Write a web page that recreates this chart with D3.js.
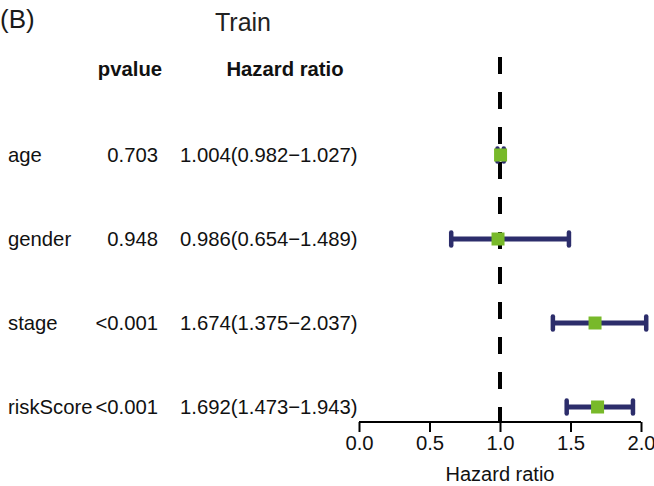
<!DOCTYPE html>
<html>
<head>
<meta charset="utf-8">
<script src="https://cdn.jsdelivr.net/npm/d3@7"></script>
<style>
  html, body { margin: 0; padding: 0; background: #fff; }
  svg { display: block; font-family: "Liberation Sans", Arial, Helvetica, sans-serif; }
</style>
</head>
<body>
<svg id="chart" width="654" height="486"></svg>
<script>
const variables = ["age", "gender", "stage", "riskScore"];
const pvalues = ["0.703", "0.948", "<0.001", "<0.001"];
const hr = [1.004, 0.986, 1.674, 1.692];
const hrLow = [0.982, 0.654, 1.375, 1.473];
const hrHigh = [1.027, 1.489, 2.037, 1.943];
const xTicks = [0.0, 0.5, 1.0, 1.5, 2.0];

const svg = d3.select("#chart");
const fmt = d3.format(".3f");

const x = d3.scaleLinear().domain([0, 2]).range([359, 641]);
const y = d3.scaleBand().domain(variables).range([113, 449]).padding(0);
const yc = v => y(v) + y.bandwidth() / 2;

// panel label and title
svg.append("text").attr("x", 0).attr("y", 28).attr("font-size", 26).attr("fill", "#1a1a1a").text("(B)");
svg.append("text").attr("x", 243).attr("y", 31).attr("text-anchor", "middle")
  .attr("font-size", 25).attr("fill", "#222").text("Train");

// headers
svg.append("text").attr("x", 130).attr("y", 76).attr("text-anchor", "middle")
  .attr("font-size", 20.3).attr("font-weight", "bold").attr("fill", "#111").text("pvalue");
svg.append("text").attr("x", 285).attr("y", 76).attr("text-anchor", "middle")
  .attr("font-size", 20.3).attr("font-weight", "bold").attr("fill", "#111").text("Hazard ratio");

// row texts
const rows = svg.append("g");
variables.forEach((v, i) => {
  const by = yc(v) + 6.5;
  rows.append("text").attr("x", 8).attr("y", by).attr("font-size", 20.3).attr("fill", "#111").text(v);
  rows.append("text").attr("x", 158).attr("y", by).attr("text-anchor", "end")
    .attr("font-size", 20.3).attr("fill", "#111").text(pvalues[i]);
  rows.append("text").attr("x", 180).attr("y", by)
    .attr("font-size", 20.3).attr("fill", "#111")
    .text(`${fmt(hr[i])}(${fmt(hrLow[i])}\u2212${fmt(hrHigh[i])})`);
});

// axis
const axisY = 422;
const axis = d3.axisBottom(x).tickValues(xTicks).tickFormat(d3.format(".1f")).tickSize(10).tickPadding(4);
const ag = svg.append("g").attr("transform", `translate(0,${axisY})`).call(axis);
ag.select(".domain").attr("stroke", "#000").attr("stroke-width", 2).attr("d", `M${x(0)},0H${x(2)}`);
ag.selectAll(".tick line").attr("stroke", "#000").attr("stroke-width", 2);
ag.selectAll(".tick text").attr("font-size", 20.3).attr("fill", "#111")
  .attr("font-family", "'Liberation Sans', Arial, sans-serif");
svg.append("text").attr("x", x(1)).attr("y", 481).attr("text-anchor", "middle")
  .attr("font-size", 20).attr("fill", "#111").text("Hazard ratio");

// reference line
svg.append("line").attr("x1", x(1)).attr("x2", x(1)).attr("y1", 57).attr("y2", axisY)
  .attr("stroke", "#000").attr("stroke-width", 4).attr("stroke-dasharray", "17,18");

// error bars
const navy = "#2c2d6b";
const green = "#78b92a";
const bars = svg.append("g");
variables.forEach((v, i) => {
  const cy = yc(v);
  bars.append("line").attr("x1", x(hrLow[i])).attr("x2", x(hrHigh[i])).attr("y1", cy).attr("y2", cy)
    .attr("stroke", navy).attr("stroke-width", 5);
  [hrLow[i], hrHigh[i]].forEach(e => {
    bars.append("line").attr("x1", x(e)).attr("x2", x(e)).attr("y1", cy - 6.5).attr("y2", cy + 6.5)
      .attr("stroke", navy).attr("stroke-width", 4.5).attr("stroke-linecap", "round");
  });
  bars.append("rect").attr("x", x(hr[i]) - 6.5).attr("y", cy - 6.5).attr("width", 13).attr("height", 13)
    .attr("fill", green);
});
</script>
</body>
</html>
